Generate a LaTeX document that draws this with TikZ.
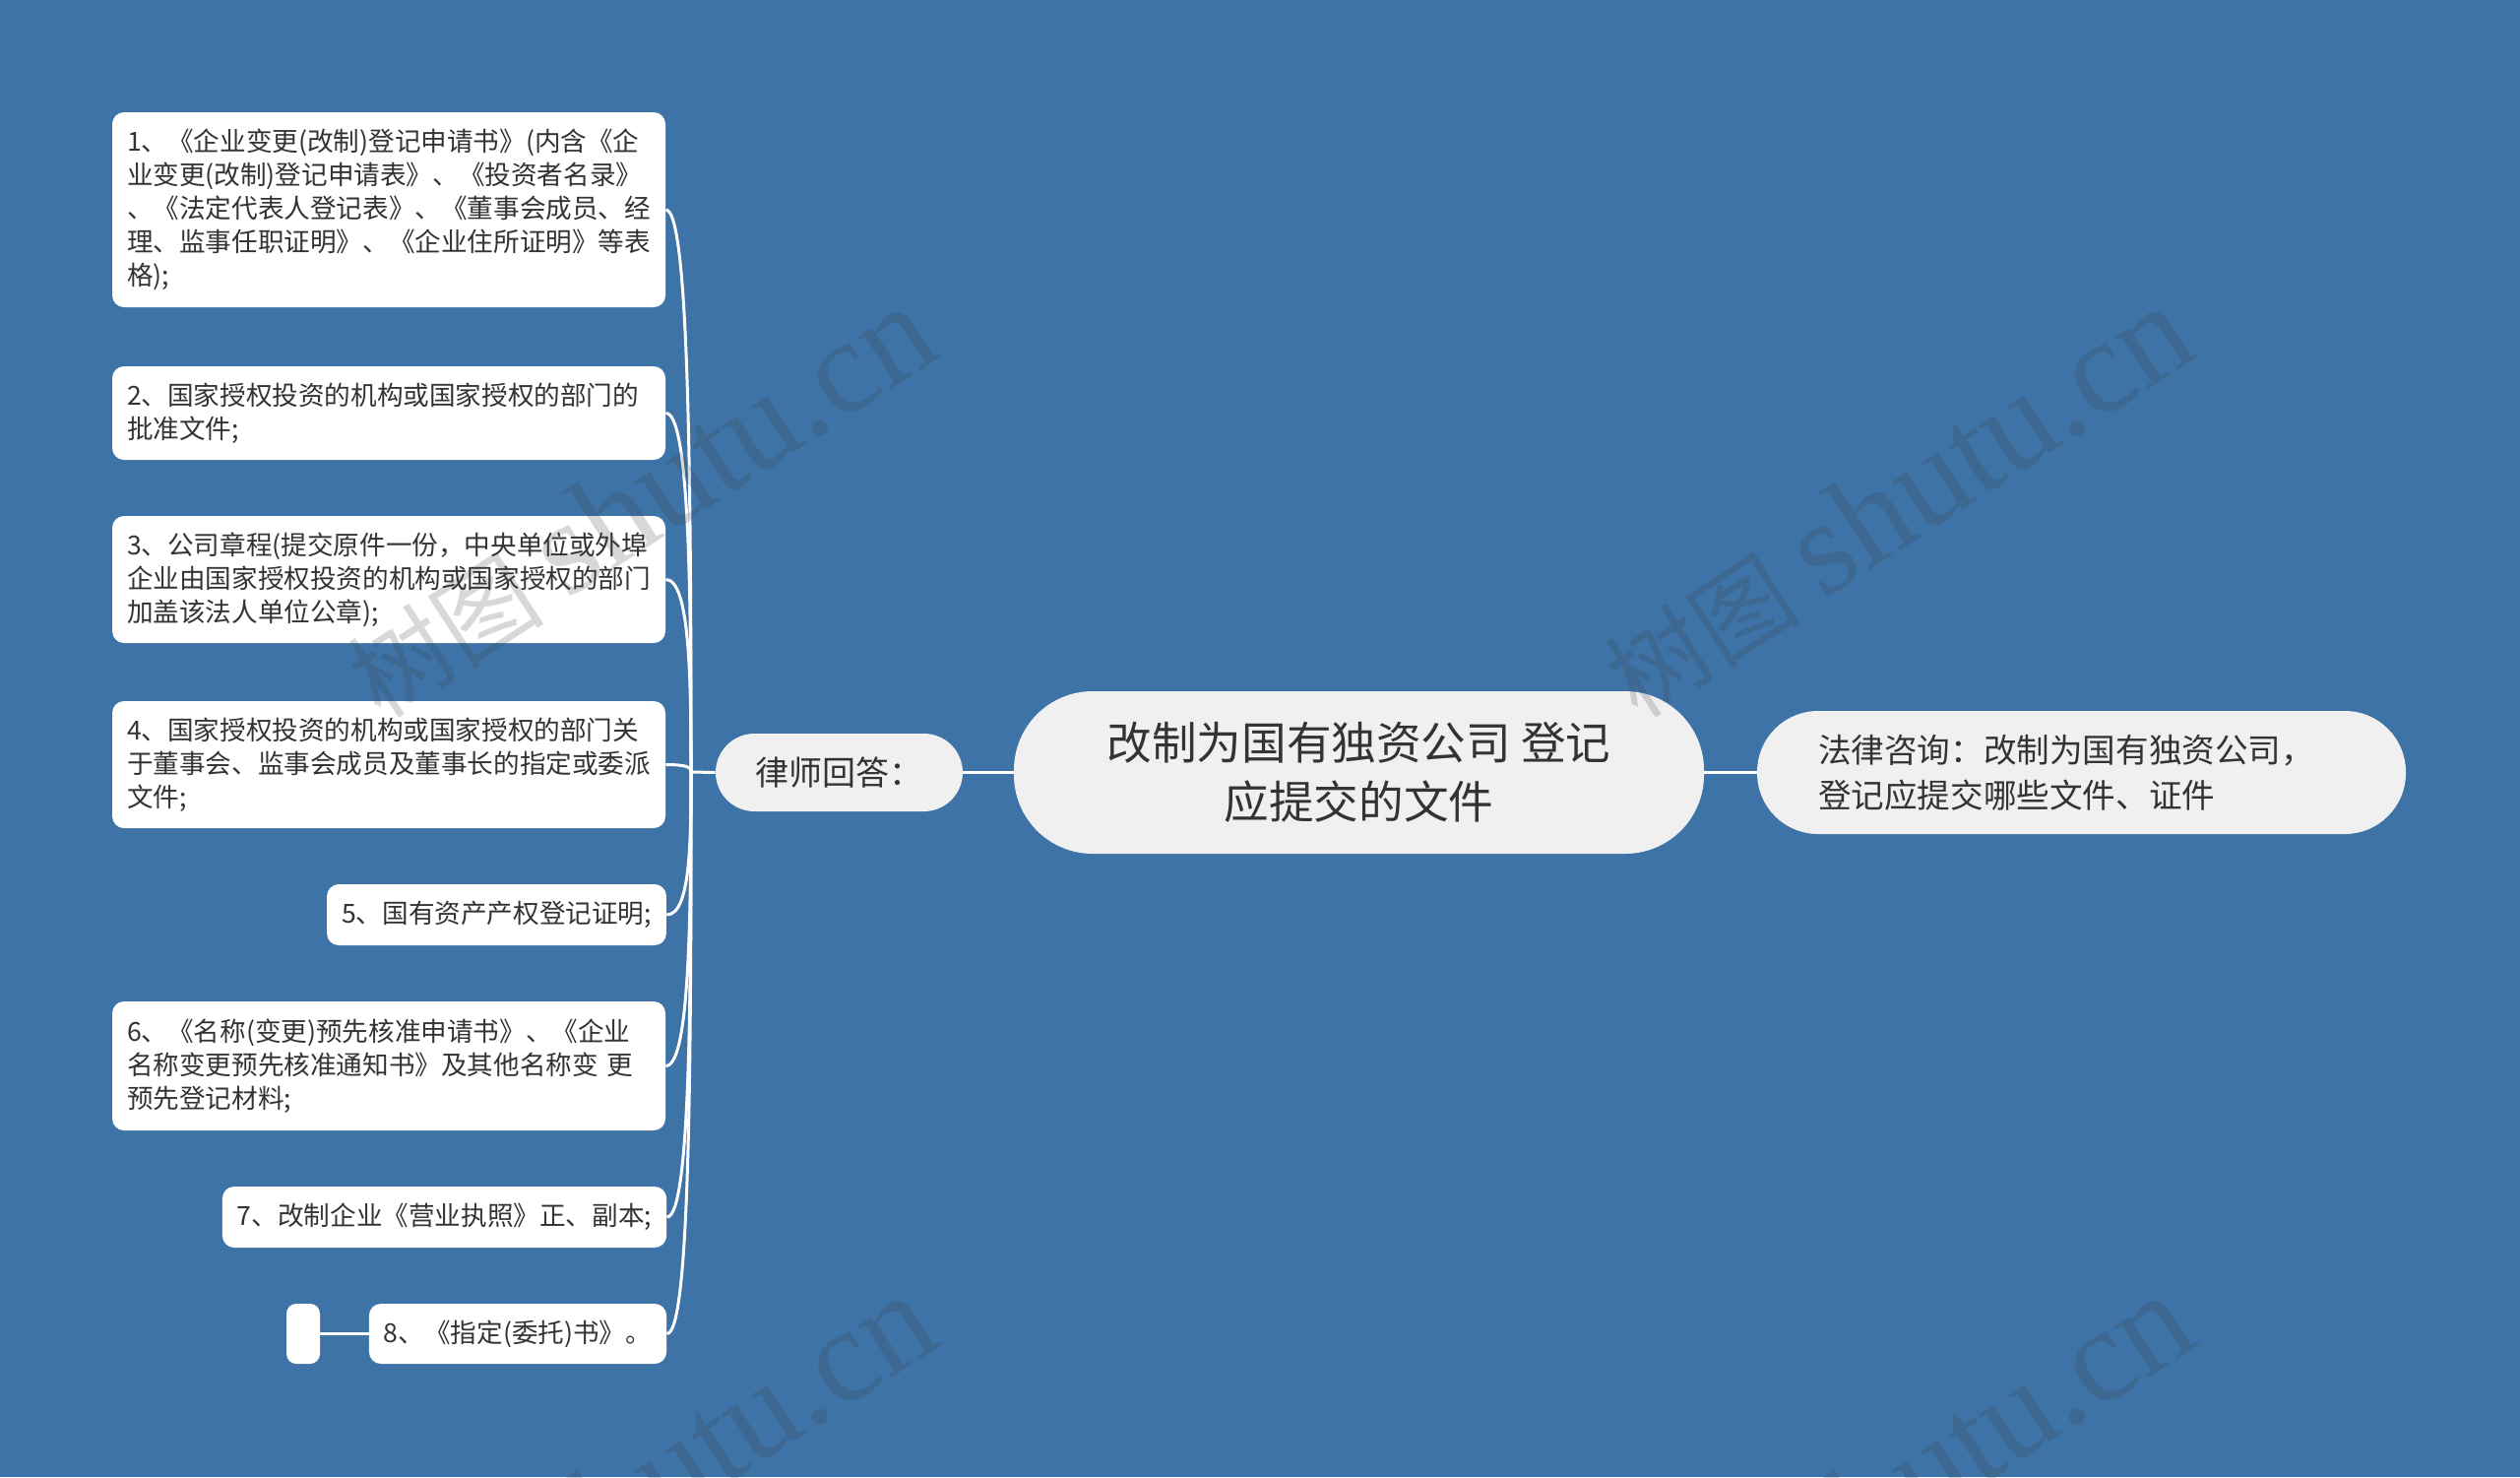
\documentclass[tikz,border=0pt]{standalone}
\usepackage{fontspec}
\setmainfont{Noto Sans CJK SC}
\newfontfamily\wmlatin{Liberation Serif}
\newfontfamily\wmcjk{Noto Sans CJK SC}
\usetikzlibrary{calc}
\definecolor{bg}{HTML}{3D73A6}
\definecolor{ink}{HTML}{333333}
\definecolor{pale}{HTML}{F0F0F0}
\begin{document}
\begin{tikzpicture}[x=0.5pt,y=-0.5pt,
  item/.style={fill=white, rounded corners=6pt, inner xsep=7.5pt, inner ysep=0pt, text=ink,
    font=\fontsize{13.3pt}{17pt}\selectfont, align=left},
  wideitem/.style={item, text width=266pt, minimum width=281pt},
  pill/.style={fill=pale, text=ink, inner ysep=0pt},
  conn/.style={draw=white, line width=1.5pt},
  wm/.style={rotate=33, text=black!75, opacity=0.2, inner sep=0pt}
]
\fill[bg] (0,0) rectangle (2560,1500);
\useasboundingbox (0,0) rectangle (2560,1500);

% left items
\node[wideitem, minimum height=99pt] (i1) at (395,213) {1、《企业变更(改制)登记申请书》(内含《企\\业变更(改制)登记申请表》、《投资者名录》\\、《法定代表人登记表》、《董事会成员、经\\理、监事任职证明》、《企业住所证明》等表\\格);};
\node[wideitem, minimum height=47.5pt] (i2) at (395,419.5) {2、国家授权投资的机构或国家授权的部门的\\批准文件;};
\node[wideitem, minimum height=64.5pt] (i3) at (395,588.5) {3、公司章程(提交原件一份，中央单位或外埠\\企业由国家授权投资的机构或国家授权的部门\\加盖该法人单位公章);};
\node[wideitem, minimum height=64.5pt] (i4) at (395,776.5) {4、国家授权投资的机构或国家授权的部门关\\于董事会、监事会成员及董事长的指定或委派\\文件;};
\node[item, minimum width=171.5pt, minimum height=31pt, align=center] (i5) at (504.5,929) {5、国有资产产权登记证明;};
\node[wideitem, minimum height=65.5pt] (i6) at (395,1082.5) {6、《名称(变更)预先核准申请书》、《企业\\名称变更预先核准通知书》及其他名称变 更\\预先登记材料;};
\node[item, minimum width=224.5pt, minimum height=31pt, align=center] (i7) at (451.5,1236) {7、改制企业《营业执照》正、副本;};
\node[item, minimum width=150pt, minimum height=30.5pt, align=center] (i8) at (526,1354.5) {8、《指定(委托)书》。};
\node[fill=white, rounded corners=5pt, minimum width=17pt, minimum height=30.5pt, inner sep=0pt] (e8) at (308,1354.5) {};

% main nodes
\node[pill, rounded corners=19.75pt, minimum width=125.5pt, minimum height=39.5pt,
  font=\fontsize{17pt}{20pt}\selectfont] (law) at (852.5,784.5) {律师回答：};
\node[pill, rounded corners=40pt, minimum width=350.5pt, minimum height=82.5pt, align=center,
  font=\fontsize{22.8pt}{30pt}\selectfont] (root) at (1380.5,784.5) {改制为国有独资公司 登记\\应提交的文件};
\node[pill, rounded corners=31pt, minimum width=329.5pt, minimum height=62.5pt, inner xsep=31pt,
  text width=267.5pt, align=left, font=\fontsize{16.8pt}{23pt}\selectfont] (rq) at (2114.5,784.5) {法律咨询：改制为国有独资公司，\\登记应提交哪些文件、证件};

% connectors
\coordinate (j) at (702,784);
\draw[conn] (root.west) -- (law.east);
\draw[conn] (root.east) -- (rq.west);
\draw[conn] (law.west) -- (j);
\foreach \c in {i1,i2,i3,i4,i5,i6,i7,i8}{
  \draw[conn] (j) .. controls ($(j)!0.5!(j |- \c.east)$) and ($(\c.east)+(24,0)$) .. (\c.east);
}
\draw[conn] (i8.west) -- (e8.east);

% watermarks
\foreach \p in {(650,510),(1927,510),(650,1514),(1927,1514)}{
  \node[wm] at \p {{\wmcjk\fontsize{50pt}{50pt}\selectfont 树图}\hspace{12pt}{\wmlatin\fontsize{68pt}{68pt}\selectfont shutu.cn}};
}
\end{tikzpicture}
\end{document}
